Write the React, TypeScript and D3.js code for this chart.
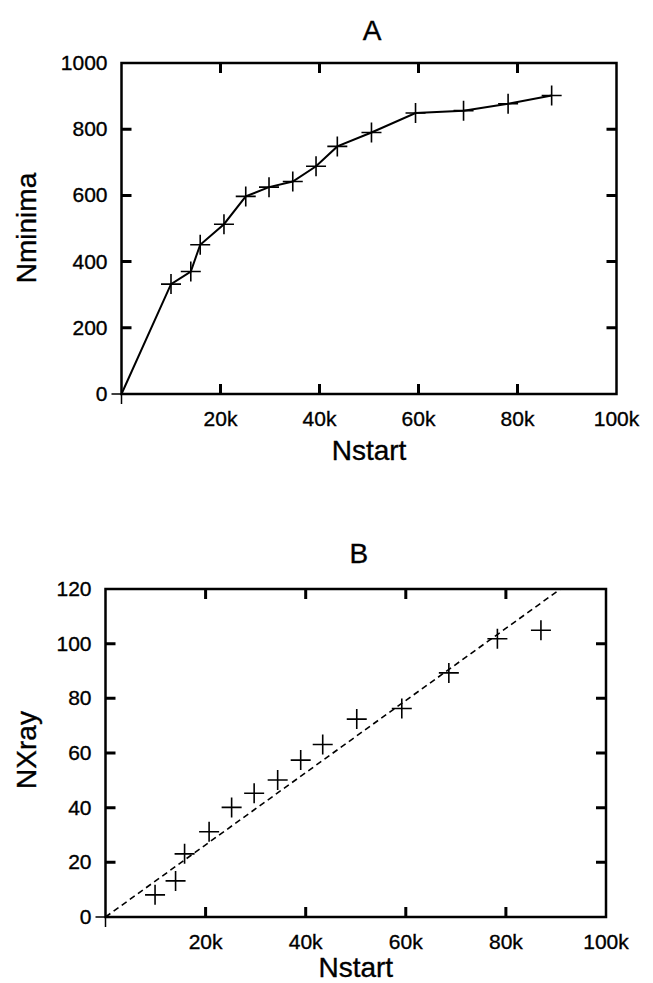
import React from 'react';
import * as d3 from 'd3';

// panel A: number of minima vs number of starts
const nstartA = [0, 10000, 14000, 15900, 20700, 25100, 29800, 34600, 39300, 43600, 50500, 59400, 69100, 78100, 86900];
const nminima = [0, 332, 370, 451, 513, 597, 625, 642, 688, 748, 790, 849, 856, 877, 902];

// panel B: X-ray structures found vs number of starts
const nstartB = [9900, 14000, 15800, 20700, 25200, 29700, 34400, 39000, 43400, 50200, 59200, 68600, 78300, 87000];
const nxray = [8.1, 13.2, 23.1, 31.2, 40.1, 45.3, 50.1, 57.4, 63.1, 72.4, 76.3, 89.3, 101.8, 104.9];
const fitX = [0, 90900];
const fitY = [0, 120];

const xTicks = [20000, 40000, 60000, 80000, 100000];
const xTickLabels = ['20k', '40k', '60k', '80k', '100k'];
const yTicksA = [0, 200, 400, 600, 800, 1000];
const yTicksB = [0, 20, 40, 60, 80, 100, 120];

const FONT = '"Liberation Sans", Arial, Helvetica, sans-serif';
const txt = { fontFamily: FONT, stroke: '#000', strokeWidth: 0.35 };

type PanelProps = {
  title: string;
  titleY: number;
  yLabel: string;
  yLabelCenter: number;
  left: number;
  right: number;
  top: number;
  bottom: number;
  yMax: number;
  yTicks: number[];
  xLabelY: number;
  children: (x: d3.ScaleLinear<number, number>, y: d3.ScaleLinear<number, number>) => React.ReactNode;
};

const Cross = ({ cx, cy }: { cx: number; cy: number }) => (
  <path d={`M${cx - 10},${cy}H${cx + 10}M${cx},${cy - 10}V${cy + 10}`} stroke="#000" strokeWidth={1.6} fill="none" />
);

const Panel = (p: PanelProps) => {
  const x = d3.scaleLinear().domain([0, 100000]).range([p.left, p.right]);
  const y = d3.scaleLinear().domain([0, p.yMax]).range([p.bottom, p.top]);
  const tl = 10;
  return (
    <g>
      <text x={(p.left + p.right) / 2 + 3} y={p.titleY} fontSize={28} textAnchor="middle" {...txt}>{p.title}</text>
      {p.children(x, y)}
      <rect x={p.left} y={p.top} width={p.right - p.left} height={p.bottom - p.top} fill="none" stroke="#000" strokeWidth={2.5} />
      {/* origin ticks pointing out */}
      <path d={`M${p.left - 10},${p.bottom}H${p.left}M${p.left},${p.bottom}V${p.bottom + 10}`} stroke="#000" strokeWidth={1.5} />
      {xTicks.map((t, i) => (
        <g key={t}>
          {t < 100000 && (
            <path d={`M${x(t)},${p.bottom}V${p.bottom - tl}M${x(t)},${p.top}V${p.top + tl}`} stroke="#000" strokeWidth={3} />
          )}
          <text x={x(t)} y={p.bottom + 32} fontSize={21} textAnchor="middle" {...txt}>{xTickLabels[i]}</text>
        </g>
      ))}
      {p.yTicks.map((t) => (
        <g key={t}>
          {t > 0 && t < p.yMax && (
            <path d={`M${p.left},${y(t)}H${p.left + tl}M${p.right},${y(t)}H${p.right - tl}`} stroke="#000" strokeWidth={3} />
          )}
          <text x={p.left - 14} y={y(t) + 7} fontSize={21} textAnchor="end" {...txt}>{t}</text>
        </g>
      ))}
      <text x={(p.left + p.right) / 2} y={p.xLabelY} fontSize={28} textAnchor="middle" {...txt}>Nstart</text>
      <text transform={`translate(36,${p.yLabelCenter}) rotate(-90)`} fontSize={28} textAnchor="middle" {...txt}>{p.yLabel}</text>
    </g>
  );
};

export default function App() {
  return (
    <svg width={653} height={983} style={{ position: 'absolute', left: 0, top: 0, background: '#fff' }}>
      <Panel title="A" titleY={40} yLabel="Nminima" yLabelCenter={228} left={121.5} right={616.5} top={63} bottom={394}
        yMax={1000} yTicks={yTicksA} xLabelY={460}>
        {(x, y) => {
          const line = d3.line<number>().x((d) => x(d)).y((_, i) => y(nminima[i]));
          return (
            <g>
              <path d={line(nstartA) || ''} fill="none" stroke="#000" strokeWidth={2} />
              {nstartA.slice(1).map((v, i) => <Cross key={i} cx={x(v)} cy={y(nminima[i + 1])} />)}
            </g>
          );
        }}
      </Panel>
      <Panel title="B" titleY={563} yLabel="NXray" yLabelCenter={750} left={105.5} right={606} top={589} bottom={917}
        yMax={120} yTicks={yTicksB} xLabelY={977}>
        {(x, y) => {
          const line = d3.line<number>().x((d) => x(d)).y((_, i) => y(fitY[i]));
          return (
            <g>
              <path d={line(fitX) || ''} fill="none" stroke="#000" strokeWidth={1.6} strokeDasharray="6,4" />
              {nstartB.map((v, i) => <Cross key={i} cx={x(v)} cy={y(nxray[i])} />)}
            </g>
          );
        }}
      </Panel>
    </svg>
  );
}
